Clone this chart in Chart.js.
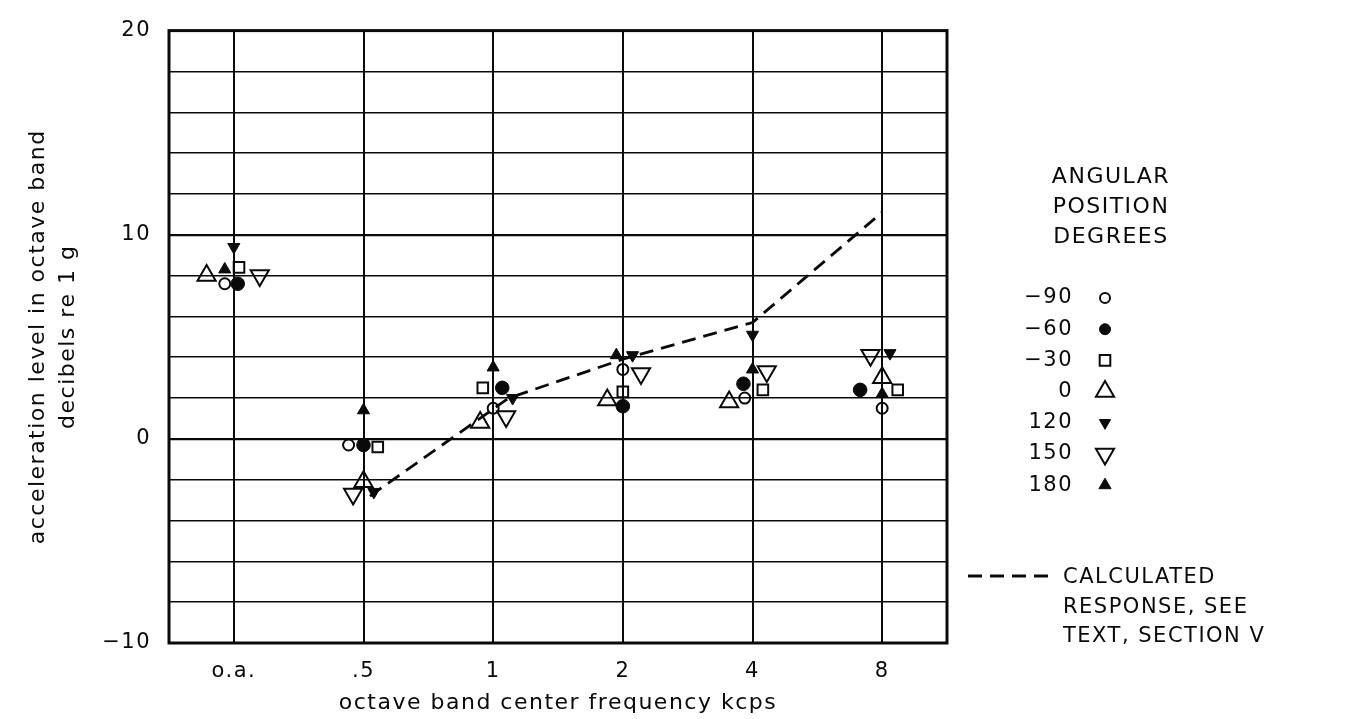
<!DOCTYPE html>
<html>
<head>
<meta charset="utf-8">
<script src="https://cdn.jsdelivr.net/npm/chart.js@4/dist/chart.umd.min.js"></script>
<style>
  html, body { margin: 0; padding: 0; background: #fff; }
</style>
</head>
<body>
<canvas id="accelChart" width="1350" height="719"></canvas>
<script>
const bands = ['o.a.', '.5', '1', '2', '4', '8'];
const angleLabels = ['\u221290', '\u221260', '\u221230', '0', '120', '150', '180'];

// acceleration level in each octave band, dB re 1 g
const levelMinus90 = [7.6, -0.3, 1.5, 3.4, 2.0, 1.5];
const levelMinus60 = [7.6, -0.3, 2.5, 1.6, 2.7, 2.4];
const levelMinus30 = [8.4, -0.4, 2.5, 2.3, 2.4, 2.4];
const level0 = [8.0, -2.1, 0.8, 1.9, 1.8, 3.0];
const level120 = [9.4, -2.6, 2.0, 4.1, 5.1, 4.2];
const level150 = [8.0, -2.7, 1.1, 3.2, 3.3, 4.1];
const level180 = [8.3, 1.4, 3.5, 4.1, 3.4, 2.2];

// calculated response, one value per band from .5 to 8
const calcLevel = [-2.8, 2.0, 3.9, 5.7, 11.1];

const yLabelled = [-10, 0, 10, 20];

// sideways nudges (fraction of a band) so symbols in a band don't sit on top of each other
const nudgeMinus90 = [-0.07, -0.115, 0, 0, -0.06, 0];
const nudgeMinus60 = [0.03, 0, 0.07, 0, -0.07, -0.17];
const nudgeMinus30 = [0.04, 0.11, -0.08, 0, 0.08, 0.12];
const nudge0 = [-0.21, 0, -0.1, -0.12, -0.18, 0];
const nudge120 = [0, 0.08, 0.15, 0.075, 0, 0.06];
const nudge150 = [0.2, -0.08, 0.1, 0.14, 0.11, -0.09];
const nudge180 = [-0.07, 0, 0, -0.05, 0, 0];
const nudgeCalc = [0.05, 0.12, 0, 0, 0];

const FONT = '"DejaVu Sans", sans-serif';
const INK = '#0a0a0a';

function points(levels, nudges, first) {
    const start = first || 0;
    return levels.map((v, i) => ({ x: start + i + nudges[i], y: v }));
}

function series(label, levels, nudges, style, radius, filled, rotation) {
    return {
        label: label,
        data: points(levels, nudges),
        pointStyle: style,
        pointRadius: radius,
        rotation: rotation || 0,
        pointBackgroundColor: filled ? INK : 'rgba(0,0,0,0)',
        pointBorderColor: INK,
        pointBorderWidth: filled ? 1 : 2,
        showLine: false
    };
}

const datasets = [
    series(angleLabels[0], levelMinus90, nudgeMinus90, 'circle', 5.5, false),
    series(angleLabels[1], levelMinus60, nudgeMinus60, 'circle', 6.8, true),
    series(angleLabels[2], levelMinus30, nudgeMinus30, 'rect', 7.5, false),
    series(angleLabels[3], level0, nudge0, 'triangle', 10.5, false),
    series(angleLabels[4], level120, nudge120, 'triangle', 7, true, 180),
    series(angleLabels[5], level150, nudge150, 'triangle', 10.5, false, 180),
    series(angleLabels[6], level180, nudge180, 'triangle', 7, true),
    {
        label: 'calculated',
        data: points(calcLevel, nudgeCalc, 1),
        showLine: true,
        borderColor: INK,
        borderWidth: 2.8,
        borderDash: [14, 8],
        pointRadius: 0,
        order: 10
    }
];

// wider letter spacing for every label drawn on the canvas
const spacing = {
    id: 'spacing',
    beforeDraw(chart) {
        chart.ctx.letterSpacing = '1.5px';
    }
};

// heavy frame round the plotting area
const frame = {
    id: 'frame',
    afterDraw(chart) {
        const { ctx, chartArea: a } = chart;
        ctx.save();
        ctx.strokeStyle = INK;
        ctx.lineWidth = 3;
        ctx.strokeRect(a.left, a.top, a.right - a.left, a.bottom - a.top);
        ctx.restore();
    }
};

// key at the right: symbol per angular position and the dashed line
const key = {
    id: 'key',
    afterDraw(chart) {
        const ctx = chart.ctx;
        ctx.save();
        ctx.fillStyle = INK;
        ctx.textBaseline = 'middle';
        ctx.font = '22px ' + FONT;
        ctx.textAlign = 'center';
        ['ANGULAR', 'POSITION', 'DEGREES'].forEach((t, i) => ctx.fillText(t, 1111, 177 + i * 30));

        ctx.font = '21px ' + FONT;
        const keyRadius = [5, 5.5, 7.5, 10.5, 6.5, 10.5, 7];
        datasets.slice(0, 7).forEach((ds, i) => {
            const y = 298 + i * 31.2;
            ctx.fillStyle = INK;
            ctx.textAlign = 'right';
            ctx.fillText(ds.label, 1073, y);
            ctx.fillStyle = ds.pointBackgroundColor;
            ctx.strokeStyle = INK;
            ctx.lineWidth = ds.pointBorderWidth;
            Chart.helpers.drawPoint(ctx, {
                pointStyle: ds.pointStyle,
                rotation: ds.rotation,
                radius: keyRadius[i],
                borderWidth: ds.pointBorderWidth
            }, 1105, y);
        });

        ctx.strokeStyle = INK;
        ctx.lineWidth = 2.8;
        ctx.setLineDash([14, 8]);
        ctx.beginPath();
        ctx.moveTo(968, 576);
        ctx.lineTo(1052, 576);
        ctx.stroke();
        ctx.setLineDash([]);

        ctx.fillStyle = INK;
        ctx.textAlign = 'left';
        ctx.font = '21px ' + FONT;
        ['CALCULATED', 'RESPONSE, SEE', 'TEXT, SECTION \u2164'].forEach((t, i) => ctx.fillText(t, 1063, 578 + i * 29.5));
        ctx.restore();
    }
};

new Chart(document.getElementById('accelChart'), {
    type: 'scatter',
    data: { datasets: datasets },
    options: {
        responsive: false,
        devicePixelRatio: 1,
        animation: false,
        events: [],
        layout: { padding: { top: 21, right: 403, bottom: 0, left: 0 }, autoPadding: false },
        plugins: { legend: { display: false }, tooltip: { enabled: false } },
        scales: {
            x: {
                type: 'linear',
                min: -0.5,
                max: 5.5,
                afterBuildTicks: s => { s.ticks = bands.map((b, i) => ({ value: i })); },
                afterFit: s => { s.height = 76; },
                ticks: {
                    callback: (v, i) => bands[i],
                    font: { family: FONT, size: 21 },
                    color: INK,
                    padding: 16,
                    maxRotation: 0,
                    autoSkip: false
                },
                grid: { color: INK, lineWidth: 2, drawTicks: false },
                border: { display: false },
                title: {
                    display: true,
                    text: 'octave band center frequency kcps',
                    font: { family: FONT, size: 22 },
                    color: INK,
                    padding: { top: 0, bottom: 3 }
                }
            },
            y: {
                min: -10,
                max: 20,
                afterFit: s => { s.width = 169; },
                ticks: {
                    stepSize: 2,
                    callback: v => yLabelled.includes(v) ? String(v).replace('-', '\u2212') : '',
                    font: { family: FONT, size: 21 },
                    color: INK,
                    padding: 18
                },
                grid: {
                    color: INK,
                    lineWidth: c => (c.tick && (c.tick.value === 0 || c.tick.value === 10)) ? 2.2 : 1.5,
                    drawTicks: false
                },
                border: { display: false },
                title: {
                    display: true,
                    text: ['acceleration level in octave band', 'decibels re 1 g'],
                    font: { family: FONT, size: 22, lineHeight: 1.36 },
                    color: INK,
                    padding: { top: 23, bottom: 0 }
                }
            }
        }
    },
    plugins: [spacing, frame, key]
});
</script>
</body>
</html>
